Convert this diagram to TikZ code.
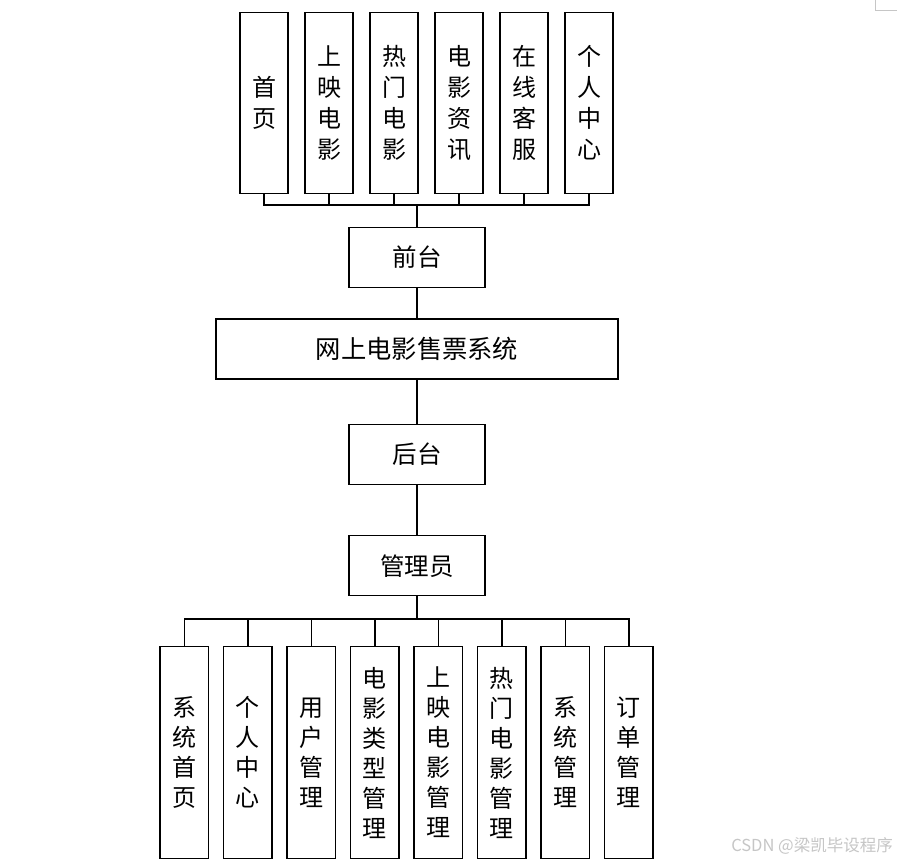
\documentclass[tikz,border=0pt]{standalone}
\usepackage{fontspec}
\newfontfamily\cjk{Noto Sans CJK SC}
\tikzset{
  box/.style={draw, line width=1.5pt, inner sep=0pt, align=center},
  topbox/.style={box, minimum width=48pt, minimum height=181pt, font=\cjk\fontsize{24}{31}\selectfont},
  botbox/.style={box, minimum width=48.5pt, minimum height=211.6pt, font=\cjk\fontsize{24}{30}\selectfont},
  midbox/.style={box, minimum width=136pt, minimum height=60pt, font=\cjk\fontsize{24.5}{24.5}\selectfont},
  link/.style={line width=1.5pt}
}
\begin{document}
\begin{tikzpicture}[x=1pt,y=-1pt]
\useasboundingbox (0,0) rectangle (897,863);
\fill[white] (0,0) rectangle (897,863);
% top row
\node[topbox] (t1) at (264.2,102.8) {首\\页};
\node[topbox] (t2) at (329.2,102.8) {上\\映\\电\\影};
\node[topbox] (t3) at (394.2,102.8) {热\\门\\电\\影};
\node[topbox] (t4) at (459.2,102.8) {电\\影\\资\\讯};
\node[topbox] (t5) at (524.2,102.8) {在\\线\\客\\服};
\node[topbox] (t6) at (589.2,102.8) {个\\人\\中\\心};
% middle column
\node[midbox] (qt) at (417,257.3) {前台};
\node[box, minimum width=402pt, minimum height=60pt, font=\cjk\fontsize{25.3}{25.3}\selectfont] (sys) at (417,349) {网上电影售票系统};
\node[midbox] (ht) at (417,454.5) {后台};
\node[midbox] (gly) at (417,565.7) {管理员};
% bottom row
\node[botbox] (b1) at (184.3,752.5) {系\\统\\首\\页};
\node[botbox] (b2) at (247.8,752.5) {个\\人\\中\\心};
\node[botbox] (b3) at (311.3,752.5) {用\\户\\管\\理};
\node[botbox] (b4) at (374.8,752.5) {电\\影\\类\\型\\管\\理};
\node[botbox] (b5) at (438.3,752.5) {上\\映\\电\\影\\管\\理};
\node[botbox] (b6) at (501.8,752.5) {热\\门\\电\\影\\管\\理};
\node[botbox] (b7) at (565.3,752.5) {系\\统\\管\\理};
\node[botbox] (b8) at (628.8,752.5) {订\\单\\管\\理};
% buses
\coordinate (tbus) at (417,205);
\coordinate (bbus) at (417,619);
\draw[link] (t1.south) -- (t1.south|-tbus) -- (t6.south|-tbus) -- (t6.south);
\foreach \i in {2,3,4,5} \draw[link] (t\i.south) -- (t\i.south|-tbus);
\draw[link] (tbus) -- (qt.north);
\draw[link] (qt.south) -- (sys.north);
\draw[link] (sys.south) -- (ht.north);
\draw[link] (ht.south) -- (gly.north);
\draw[link] (gly.south) -- (bbus);
\draw[link] (b1.north) -- (b1.north|-bbus) -- (b8.north|-bbus) -- (b8.north);
\foreach \i in {2,3,4,5,6,7} \draw[link] (b\i.north) -- (b\i.north|-bbus);
% page corner mark
\draw[gray!45, line width=0.8pt] (875.5,0) -- (875.5,10.5) -- (897,10.5);
% watermark
\node[anchor=east, inner sep=0pt, text=gray!45, font=\cjk\fontsize{16.5}{16.5}\selectfont] (wm) at (893,846) {CSDN @梁凯毕设程序};
\end{tikzpicture}
\end{document}
